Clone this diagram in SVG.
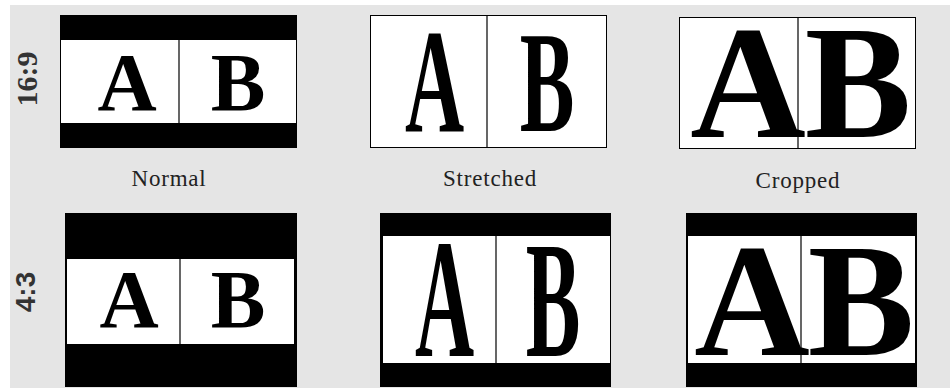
<svg xmlns="http://www.w3.org/2000/svg" width="950" height="389" viewBox="0 0 950 389">
<style>
.bg{fill:#e5e5e5}
.blk{fill:#000}
.wht{fill:#fff}
.frame{fill:#fff;stroke:#000;stroke-width:1}
.div{stroke:#000;stroke-width:1.2}
.let{font-family:"Liberation Serif","Times New Roman",serif;font-weight:bold;fill:#000;text-anchor:middle}
.lab{font-family:"Liberation Serif","Times New Roman",serif;font-size:23px;fill:#222;text-anchor:middle;letter-spacing:0.8px}
.row{font-weight:bold;fill:#333;text-anchor:middle}
</style>
<rect class="bg" x="10" y="5" width="940" height="383"/>

<g id="label-16-9"><text class="row" font-family="Liberation Serif, serif" font-size="30" transform="translate(37,79) rotate(-90)">16:9</text></g>
<g id="label-4-3"><text class="row" font-family="Liberation Sans, sans-serif" font-size="28" transform="translate(35,292) rotate(-90)">4:3</text></g>

<g id="p1">
<rect class="blk" x="60" y="15" width="237" height="133"/>
<rect class="wht" x="61" y="40" width="235" height="83"/>
<text class="let" font-size="82" x="127" y="110">A</text>
<text class="let" font-size="82" x="238" y="110">B</text>
<line class="div" x1="179" y1="40" x2="179" y2="123"/>
</g>

<g id="p2">
<rect class="frame" x="370.5" y="15.5" width="236" height="132"/>
<text class="let" font-size="82" transform="translate(434.5,131) scale(1,1.8)">A</text>
<text class="let" font-size="82" transform="translate(547,131) scale(1,1.75)">B</text>
<line class="div" x1="487" y1="16" x2="487" y2="148"/>
</g>

<g id="p3">
<rect class="frame" x="679.5" y="17.5" width="236" height="131"/>
<text class="let" font-size="160" x="748" y="137">A</text>
<text class="let" font-size="160" x="858" y="137">B</text>
<line class="div" x1="798" y1="18" x2="798" y2="149"/>
</g>

<g id="cap-normal"><text class="lab" x="169" y="186">Normal</text></g>
<g id="cap-stretched"><text class="lab" x="490" y="186">Stretched</text></g>
<g id="cap-cropped"><text class="lab" x="798" y="188">Cropped</text></g>

<g id="p4">
<rect class="blk" x="65" y="213" width="232" height="174"/>
<rect class="wht" x="67" y="259" width="227" height="85"/>
<text class="let" font-size="82" x="129" y="327">A</text>
<text class="let" font-size="82" x="238" y="327">B</text>
<line class="div" x1="180" y1="259" x2="180" y2="344"/>
</g>

<g id="p5">
<rect class="blk" x="380" y="213" width="231" height="174"/>
<rect class="wht" x="383" y="236" width="227" height="127"/>
<text class="let" font-size="82" transform="translate(444.5,356) scale(1,2.08)">A</text>
<text class="let" font-size="82" transform="translate(553,356) scale(1,2.02)">B</text>
<line class="div" x1="496" y1="236" x2="496" y2="363"/>
</g>

<g id="p6">
<rect class="blk" x="686" y="213" width="231" height="174"/>
<rect class="wht" x="688" y="236" width="227" height="127"/>
<text class="let" font-size="160" x="752" y="355">A</text>
<text class="let" font-size="160" x="861" y="355">B</text>
<line class="div" x1="801" y1="236" x2="801" y2="363"/>
</g>
</svg>
